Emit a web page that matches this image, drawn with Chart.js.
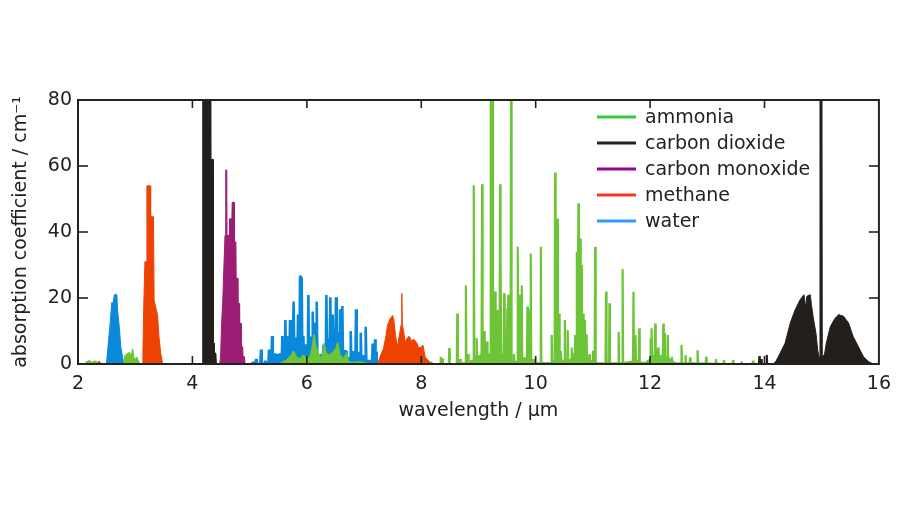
<!DOCTYPE html>
<html><head><meta charset="utf-8">
<script src="https://cdn.jsdelivr.net/npm/chart.js@4.4.1/dist/chart.umd.min.js"></script>
<style>html,body{margin:0;padding:0;background:#fff;}#wrap{width:900px;height:506px;position:relative;}</style>
</head><body><div id="wrap"><canvas id="c"></canvas></div>
<script>
// ---- axis ticks / labels ----
const xTicks = [2, 4, 6, 8, 10, 12, 14, 16];
const yTicks = [0, 20, 40, 60, 80];
const speciesNames = ['ammonia', 'carbon dioxide', 'carbon monoxide', 'methane', 'water'];

// ---- data: [wavelength µm, absorption coefficient cm^-1] ----
// ammonia: individual lines
const ammoniaLines = [[8.34,2.2],[8.37,1.7],[8.49,4.8],[8.63,15.3],[8.68,1.5],[8.78,23.8],[8.82,3],[8.918,54.2],[8.94,2.5],[8.97,7.8],
 [9.063,54.5],[9.10,10],[9.12,4],[9.15,6.8],[9.18,3],[9.215,85],[9.245,85],[9.29,22],[9.31,8],[9.33,16.4],[9.378,54.5],[9.39,32.5],
 [9.42,3],[9.45,21.4],[9.48,8],[9.506,16.9],[9.52,21],[9.57,85],[9.62,3],[9.687,35.5],[9.73,21],[9.757,23.8],[9.80,2],[9.856,17.4],
 [9.89,16.4],[9.914,33.5],[9.96,1.5],[10.09,35.5],[10.28,8.8],[10.34,58],[10.38,44],[10.41,15.3],[10.44,4],[10.51,13.3],[10.56,10.3],
 [10.63,5],[10.69,8.8],[10.72,34],[10.747,48.7],[10.776,38],[10.80,30],[10.83,15.3],[10.86,13.3],[10.89,9],[10.94,3],[11.0,4],
 [11.04,35.5],[11.23,22],[11.29,18.4],[11.45,9.8],[11.52,28.8],[11.71,21.9],[11.745,8.8],[11.81,10.8],[12.01,7.8],[12.03,10.8],
 [12.09,12.3],[12.14,5],[12.23,12.3],[12.26,9.4],[12.31,8.8],[12.38,2.2],[12.55,5.8],[12.62,2.7],[12.70,2],[12.83,4.2],[12.98,2.2],
 [13.15,1.5],[13.29,1.2],[13.45,1.2],[13.6,0.8],[13.8,1.0]];
// ammonia: weak band structure
const ammoniaBand = [[2.0,0],[2.12,0],[2.15,0.6],[2.2,1],[2.24,0.4],[2.3,0.9],[2.35,0.2],[2.4,0],[2.80,0],[2.82,2.5],[2.86,3],
 [2.9,3.5],[2.93,2],[2.955,4.5],[2.975,1.5],[3.0,1.5],[3.03,2],[3.06,0.5],[3.09,0],[5.5,0],[5.56,0.4],[5.65,1.2],[5.735,2.7],
 [5.765,3.9],[5.82,2.2],[5.88,1.5],[5.94,2.7],[6.0,1.5],[6.056,2.2],[6.09,4.7],[6.126,9],[6.15,5.8],[6.2,3.2],[6.26,1.5],[6.3,6.3],
 [6.336,3.2],[6.405,2.7],[6.464,3.7],[6.51,4.7],[6.54,6.5],[6.58,2.7],[6.64,1.5],[6.697,3.5],[6.726,0.7],[6.81,0.5],[6.93,0.7],
 [7.0,0.3],[7.1,0],[8.6,0],[8.8,0.5],[8.95,1.5],[9.05,3],[9.2,3],[9.35,2],[9.45,0.5],[9.6,1],[9.75,0.5],[10.0,0.3],[10.3,0.5],
 [10.42,2],[10.5,0.5],[10.62,1.5],[10.7,4],[10.85,4],[10.95,1],[11.1,0.3],[11.5,0.3],[11.75,1],[11.9,0.3],[12.0,1.5],[12.1,3],
 [12.3,2],[12.45,0.3],[12.8,0.3],[13.6,0],[16,0]];
// carbon dioxide
const co2Band43 = [[4.17,0],[4.18,150],[4.32,150],[4.325,62],[4.36,62],[4.365,6.3],[4.38,6.3],[4.385,3.3],[4.41,3.3],[4.42,0]];
const co2Band15 = [[14.15,0],[14.2,0.8],[14.27,3.2],[14.36,6.3],[14.45,12.4],[14.535,16.4],[14.62,19.4],[14.69,21],[14.72,17],
 [14.74,20.5],[14.80,21],[14.82,18],[14.85,14.3],[14.9,9.3],[14.93,4.2],[14.955,2],[14.97,150],[15.0,150],[15.01,2],[15.05,3],
 [15.08,6.3],[15.15,11.3],[15.23,13.8],[15.30,15],[15.32,14.8],[15.38,14.5],[15.47,12.4],[15.55,8.3],[15.64,5.3],[15.73,2.2],
 [15.82,0.7],[15.9,0]];
const co2Lines = [[13.91,2.4],[13.95,1.5],[14.04,2.8]];
// carbon monoxide
const coBand = [[4.48,0],[4.495,3.3],[4.51,12.3],[4.53,19],[4.55,29.5],[4.57,39],[4.58,39],[4.585,58.8],[4.60,58.8],[4.605,39],
 [4.64,39],[4.645,10],[4.65,44],[4.69,44],[4.695,49],[4.73,49],[4.735,37],[4.76,37],[4.765,26],[4.79,26],[4.795,18.4],[4.82,18.4],
 [4.825,12.3],[4.85,12.3],[4.855,5.2],[4.88,5.2],[4.885,2.2],[4.91,2.2],[4.92,0]];
// methane
const methaneBand33 = [[2.3,0],[2.37,0.8],[2.42,0],[3.12,0],[3.135,4],[3.15,18],[3.17,31],[3.20,31],[3.205,54],[3.26,54],[3.265,24],
 [3.275,44.6],[3.32,44.6],[3.33,19.4],[3.36,17],[3.39,15],[3.415,8.3],[3.445,3.3],[3.475,0.5],[3.50,0]];
const methaneBand77 = [[7.20,0],[7.25,0.5],[7.28,2.2],[7.34,4.7],[7.38,8.2],[7.41,11.7],[7.455,13.7],[7.50,14.7],[7.52,13.5],
 [7.55,8.7],[7.58,5],[7.62,9],[7.65,12],[7.66,21.4],[7.67,12],[7.69,10.1],[7.72,6.6],[7.76,8],[7.79,8.4],[7.83,7],[7.87,7.5],
 [7.92,6.5],[7.95,5],[7.99,5],[8.03,5.7],[8.07,2],[8.15,0.6],[8.24,0]];
// water
const waterBand27 = [[2.49,0],[2.50,0.5],[2.53,6.3],[2.56,12],[2.59,18.6],[2.617,18.6],[2.635,21],[2.68,21],[2.69,16.7],[2.72,11.6],
 [2.75,5],[2.78,2],[2.80,0]];
const waterLines = [[5.054,0.7],[5.112,1.5],[5.199,4.4],[5.27,1],[5.339,4.4],[5.392,8.5],[5.444,3.2],[5.502,3],[5.531,3.2],[5.572,8.5],
 [5.625,13.3],[5.66,8.5],[5.706,13.3],[5.73,6.2],[5.77,18.9],[5.805,8],[5.846,15],[5.881,26.8],[5.91,26.2],[5.94,8.5],[5.974,6],
 [6.027,20.9],[6.056,8.3],[6.103,15.9],[6.126,12.5],[6.173,18.9],[6.231,1.5],[6.289,5.8],[6.342,20.9],[6.382,7.8],[6.411,20.2],
 [6.452,15],[6.481,3.7],[6.51,20.2],[6.545,9.8],[6.58,16.6],[6.621,17.6],[6.668,4.2],[6.697,3.9],[6.767,10],[6.814,3.9],[6.86,16.6],
 [6.9,3.7],[6.942,9.5],[6.988,2.7],[7.029,11.3],[7.087,1.2],[7.151,6.2],[7.192,7.5],[7.21,3.7]];
const waterBase = [[5.45,0],[5.55,1],[5.7,2.5],[5.9,3],[6.1,2.5],[6.3,3],[6.5,3],[6.7,2],[6.9,1.5],[7.1,1],[7.25,0]];

// ---- styles ----
const dataColors = {ammonia:'#6ec437', co2:'#231f1c', co:'#9c1e74', methane:'#ee4200', water:'#0a88d9'};
const legendColors = ['#33cc33', '#222222', '#990099', '#ff3322', '#3399ff'];

function band(pairs){ return pairs.map(p => ({x:p[0], y:p[1]})); }
function sticks(pairs, hw){
  const pts = [];
  pairs.forEach(p => { pts.push({x:p[0]-hw, y:0}, {x:p[0], y:p[1]}, {x:p[0]+hw, y:0}); });
  return pts;
}
function ds(label, data, color, bw){
  return {label, data, borderColor:color, backgroundColor:color, borderWidth:bw, fill:'origin',
          pointRadius:0, tension:0, borderJoinStyle:'bevel'};
}

const datasets = [
  ds('ammonia', sticks(ammoniaLines, 0.009), dataColors.ammonia, 2.2),
  ds('ammonia', band(ammoniaBand), dataColors.ammonia, 1.4),
  ds('carbon dioxide', band(co2Band43), dataColors.co2, 1),
  ds('carbon dioxide', band(co2Band15), dataColors.co2, 1),
  ds('carbon dioxide', sticks(co2Lines, 0.008), dataColors.co2, 2),
  ds('carbon monoxide', band(coBand), dataColors.co, 1),
  ds('methane', band(methaneBand33), dataColors.methane, 1),
  ds('methane', band(methaneBand77), dataColors.methane, 1),
  ds('water', sticks(waterLines, 0.012), dataColors.water, 2.6),
  ds('water', band(waterBand27), dataColors.water, 1),
  ds('water', band(waterBase), dataColors.water, 1)
];

const FONT = {family:'DejaVu Sans', size:19};
const TXT = '#222222';

const framePlugin = {
  id:'frame',
  afterDraw(chart){
    const {ctx, chartArea:a, scales:{x, y}} = chart;
    ctx.save();
    ctx.strokeStyle = '#222';
    ctx.lineWidth = 1.6;
    const seg = (x1,y1,x2,y2) => { ctx.beginPath(); ctx.moveTo(x1,y1); ctx.lineTo(x2,y2); ctx.stroke(); };
    xTicks.slice(1,-1).forEach(v => { const px = x.getPixelForValue(v); seg(px,a.bottom,px,a.bottom-8); seg(px,a.top,px,a.top+8); });
    yTicks.slice(1,-1).forEach(v => { const py = y.getPixelForValue(v); seg(a.left,py,a.left+10,py); seg(a.right,py,a.right-10,py); });
    ctx.lineWidth = 2;
    ctx.strokeRect(a.left, a.top, a.right-a.left, a.bottom-a.top);
    // legend
    ctx.font = '19px "DejaVu Sans"';
    ctx.textBaseline = 'middle';
    ctx.textAlign = 'left';
    speciesNames.forEach((n,i) => {
      const ly = 117 + i*26;
      ctx.strokeStyle = legendColors[i]; ctx.lineWidth = 3;
      seg(597, ly, 636, ly);
      ctx.fillStyle = TXT;
      ctx.fillText(n, 645, ly+1);
    });
    ctx.restore();
  }
};

new Chart(document.getElementById('c'), {
  type:'line',
  data:{datasets},
  options:{
    responsive:true, maintainAspectRatio:false, animation:false,
    layout:{padding:{left:0, right:20, top:100, bottom:72}},
    plugins:{legend:{display:false}, tooltip:{enabled:false}},
    scales:{
      x:{type:'linear', min:2, max:16,
         afterBuildTicks: s => { s.ticks = xTicks.map(v => ({value:v})); },
         afterFit: s => { s.height = 70; },
         ticks:{font:FONT, color:TXT, padding:9, maxRotation:0},
         grid:{display:false, drawTicks:false}, border:{display:false},
         title:{display:true, text:'wavelength / µm', font:FONT, color:TXT, padding:{top:0, bottom:12}}},
      y:{type:'linear', min:0, max:80,
         afterBuildTicks: s => { s.ticks = yTicks.map(v => ({value:v})); },
         afterFit: s => { s.width = 78; },
         ticks:{font:FONT, color:TXT, padding:6},
         grid:{display:false, drawTicks:false}, border:{display:false},
         title:{display:true, text:'absorption coefficient / cm⁻¹', font:FONT, color:TXT, padding:{top:10, bottom:0}}}
    }
  },
  plugins:[framePlugin]
});
</script></body></html>
